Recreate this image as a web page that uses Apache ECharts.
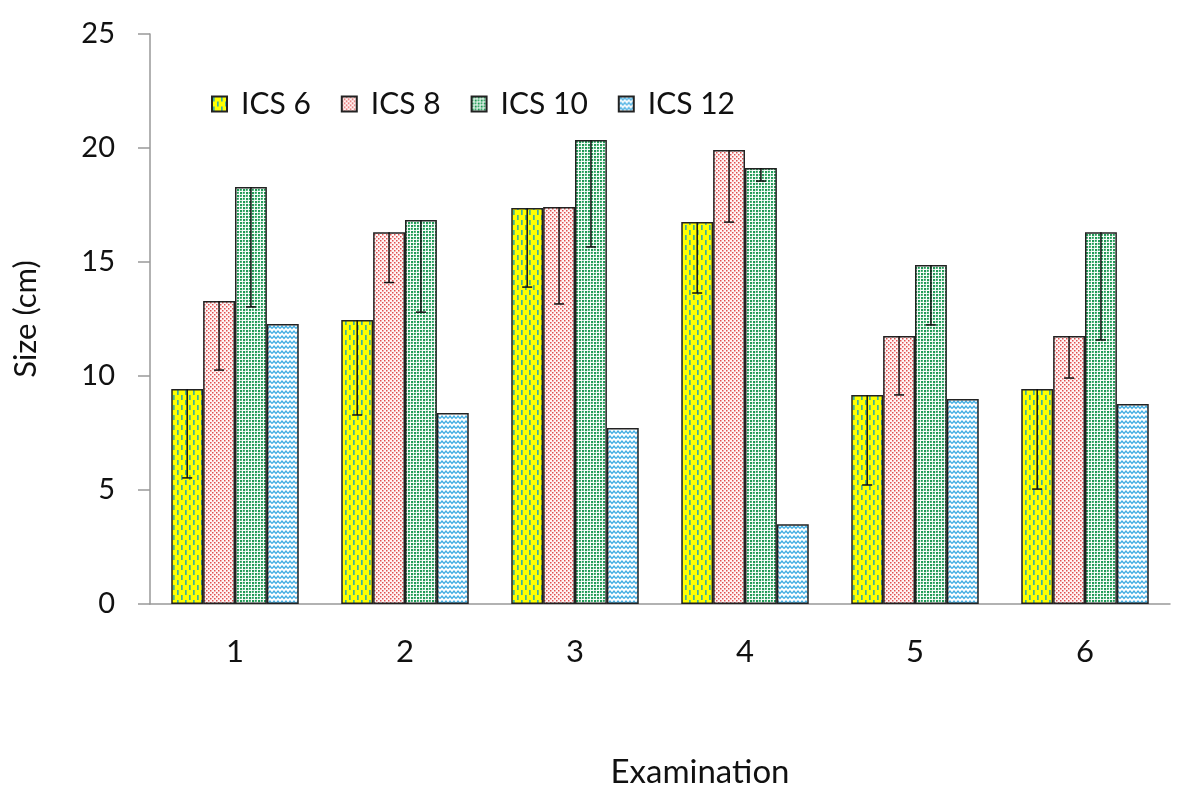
<!DOCTYPE html>
<html><head><meta charset="utf-8">
<script src="https://cdn.jsdelivr.net/npm/echarts@6/dist/echarts.min.js"></script>
<style>html,body{margin:0;padding:0;background:#fff}#c{width:1200px;height:803px}</style>
</head><body><div id="c"></div>
<script>
const categories = ['1','2','3','4','5','6'];
const seriesNames = ['ICS 6','ICS 8','ICS 10','ICS 12'];
const ics6 = [9.43, 12.46, 17.37, 16.75, 9.17, 9.43];
const ics8 = [13.29, 16.3, 17.41, 19.91, 11.75, 11.75];
const ics10 = [18.29, 16.84, 20.35, 19.12, 14.87, 16.3];
const ics12 = [12.28, 8.38, 7.72, 3.5, 8.99, 8.77];
// lower ends of the (minus-only) error bars
const ics6Low = [5.53, 8.29, 13.9, 13.64, 5.22, 5.04];
const ics8Low = [10.26, 14.1, 13.16, 16.75, 9.17, 9.91];
const ics10Low = [13.03, 12.8, 15.66, 18.55, 12.24, 11.58];
const yTicks = [0, 5, 10, 15, 20, 25];

function mk(w, h, draw){ const c=document.createElement('canvas'); c.width=w; c.height=h; const g=c.getContext('2d'); draw(g); return c; }
const pat6 = mk(8, 10, g=>{ g.fillStyle='#ffff00'; g.fillRect(0,0,8,10); g.fillStyle='#3fb39a'; g.fillRect(1,0,1.7,5); g.fillRect(5,5,1.7,5); });
const pat8 = mk(4, 4, g=>{ g.fillStyle='#fff6f6'; g.fillRect(0,0,4,4); g.fillStyle='#e05050'; g.fillRect(0,0,1.5,1.5); g.fillRect(2,2,1.5,1.5); });
const pat10 = mk(6, 6, g=>{ g.fillStyle='#ffffff'; g.fillRect(0,0,6,6); g.fillStyle='#1f9a55'; g.fillRect(0,0,2.2,2.2); g.fillRect(3,3,2.2,2.2); g.fillRect(3,0,1.8,1.8); g.fillRect(0,3,1.8,1.8);});
const pat12 = mk(8, 5, g=>{ g.fillStyle='#ffffff'; g.fillRect(0,0,8,5); g.strokeStyle='#44aee3'; g.lineWidth=1.3; g.beginPath(); g.moveTo(0,3.5); g.lineTo(2,1); g.lineTo(4,3.5); g.lineTo(6,1); g.lineTo(8,3.5); g.stroke(); });
const patterns = [pat6, pat8, pat10, pat12];
const values = [ics6, ics8, ics10, ics12];
const lows = [ics6Low, ics8Low, ics10Low, null];

const FONT = 'Lato';
const gapPct = 0.25;
const series = [];
values.forEach((v,i)=>{
  series.push({
    name: seriesNames[i], type: 'bar', data: v,
    barGap: '0%', barCategoryGap: (gapPct*100)+'%',
    itemStyle: { color: {image: patterns[i], repeat: 'repeat'}, borderColor: '#222', borderWidth: 1.5 },
    emphasis: {disabled: true}
  });
});
lows.forEach((lo,i)=>{
  if(!lo) return;
  series.push({
    type: 'custom', z: 10, silent: true,
    data: values[i].map((v,k)=>[k, v, lo[k]]),
    renderItem: (params, api)=>{
      const top = api.coord([api.value(0), api.value(1)]);
      const bot = api.coord([api.value(0), api.value(2)]);
      const bw = api.size([1,0])[0];
      const barW = bw*(1-gapPct)/4;
      const x = top[0] + (i-1.5)*barW;
      return {type:'group', children:[
        {type:'line', shape:{x1:x,y1:top[1],x2:x,y2:bot[1]}, style:{stroke:'#111', lineWidth:1.5}},
        {type:'line', shape:{x1:x-5,y1:bot[1],x2:x+5,y2:bot[1]}, style:{stroke:'#111', lineWidth:1.5}}
      ]};
    }
  });
});

const chart = echarts.init(document.getElementById('c'));
chart.setOption({
  animation: false,
  textStyle: {fontFamily: FONT},
  grid: {left: 150, right: 30, top: 34, bottom: 199},
  legend: {
    data: seriesNames, icon: 'rect', left: 206, top: 84, itemWidth: 15, itemHeight: 15, itemGap: 30,
    textStyle: {fontSize: 30, color: '#111', fontFamily: FONT, padding: [0,0,0,9]}, selectedMode: false
  },
  xAxis: {
    type: 'category', data: categories,
    axisLine: {lineStyle: {color: '#999', width: 1.5}}, axisTick: {show: false},
    axisLabel: {fontSize: 31, color: '#111', margin: 32},
    name: 'Examination', nameLocation: 'middle', nameGap: 152,
    nameTextStyle: {fontSize: 33, color: '#111', padding: [0,0,0,80]}
  },
  yAxis: {
    type: 'value', min: yTicks[0], max: yTicks[yTicks.length-1], interval: 5,
    axisLine: {show: true, lineStyle: {color: '#999', width: 1.5}},
    axisTick: {show: true, length: 12, lineStyle: {color: '#999', width: 1.5}},
    splitLine: {show: false},
    axisLabel: {fontSize: 29, color: '#111', margin: 35},
    name: 'Size (cm)', nameLocation: 'middle', nameGap: 109, nameRotate: 90,
    nameTextStyle: {fontSize: 31, color: '#111'}
  },
  series
});
</script></body></html>
